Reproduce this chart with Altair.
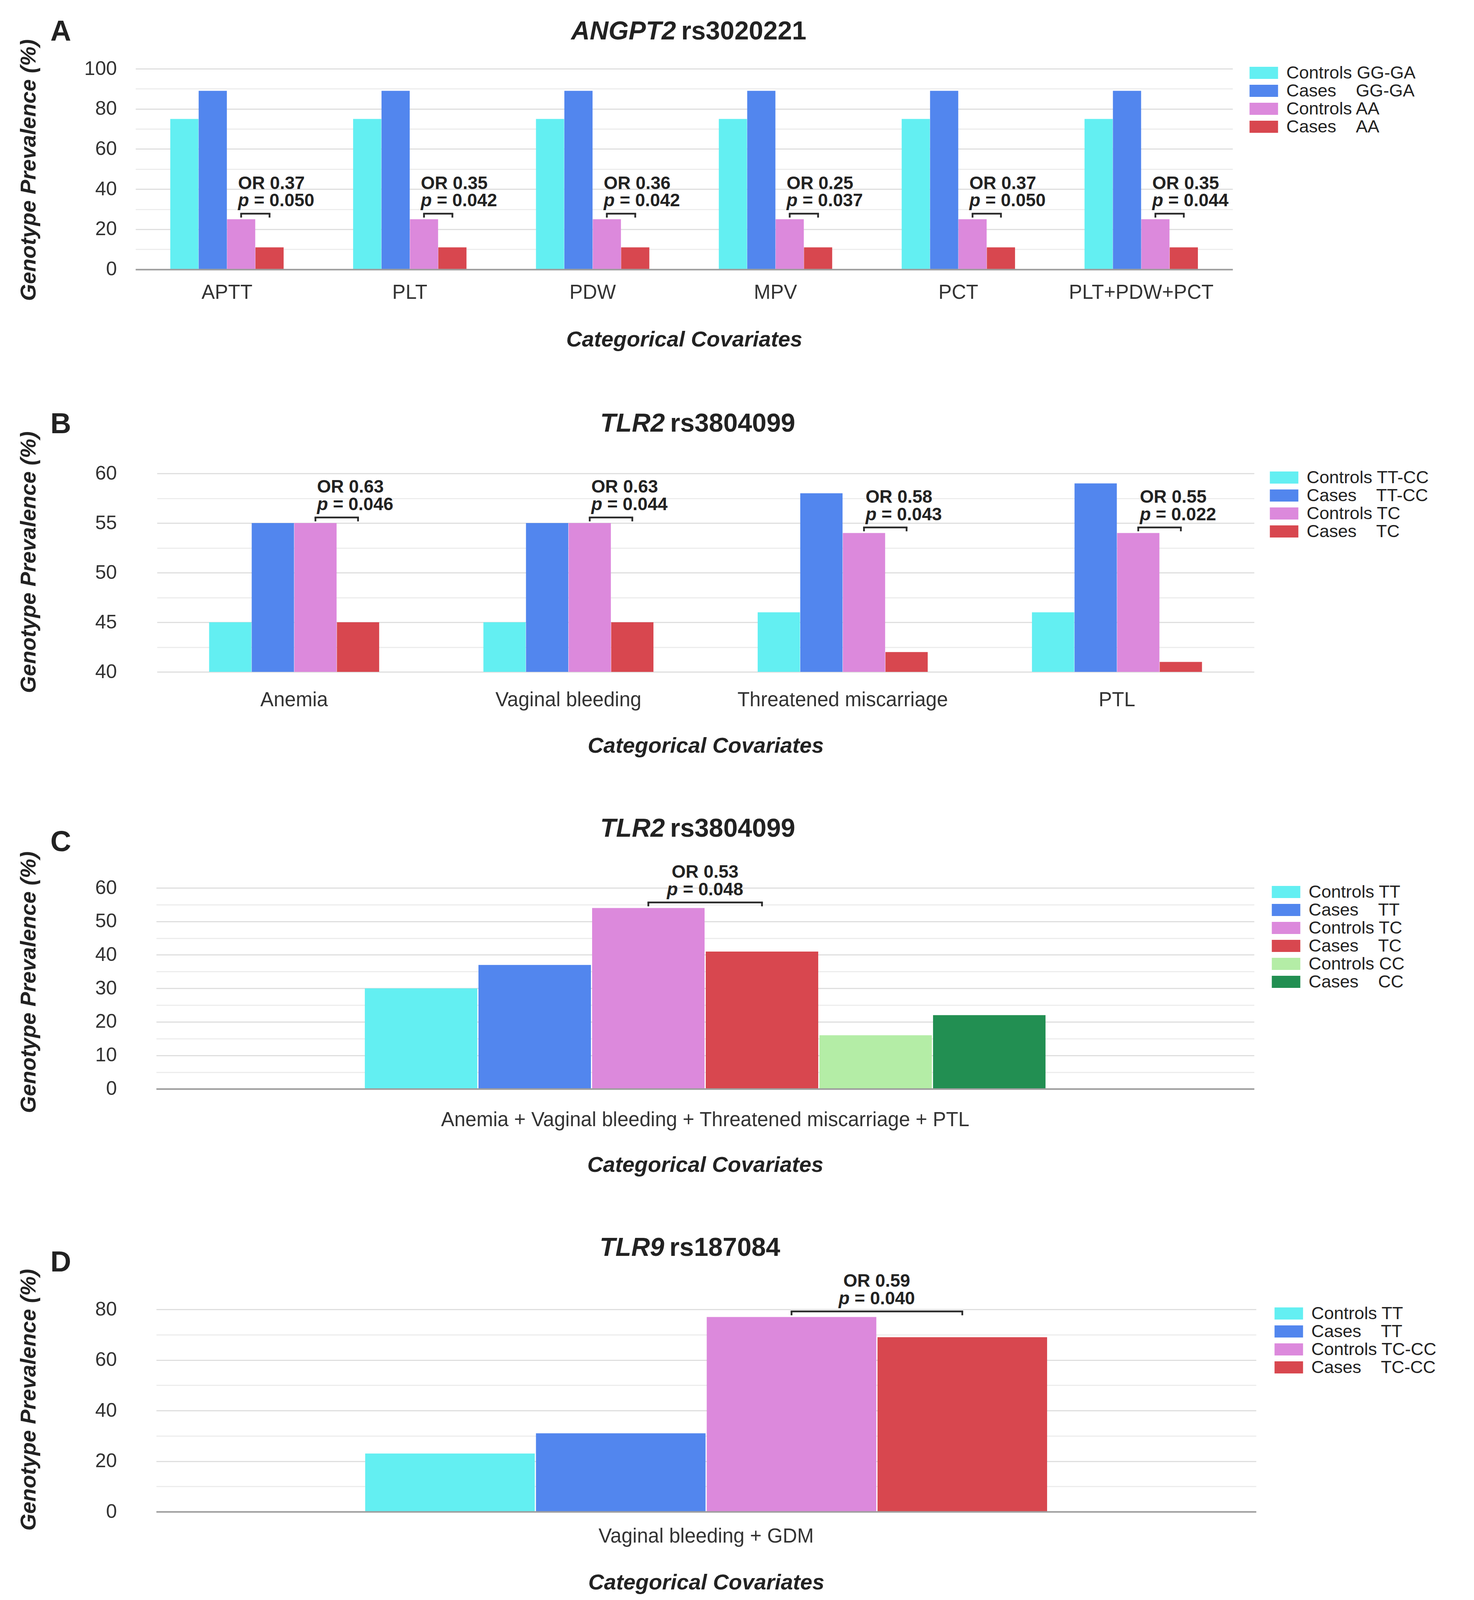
import altair as alt
import pandas as pd

# The photographed area is 3774 px wide and about 4096 px tall, so the reference's
# vertical layout (5741 px) is compressed by V; fonts are scaled moderately.
V = 0.7135

FONT = "Liberation Sans"
INK = "#222222"
TICK_INK = "#333333"
GAP = "\u00a0" * 4

CYAN, BLUE, PINK, RED = "#63eff2", "#5286ee", "#dc89dc", "#d8474f"
LGREEN, DGREEN = "#b4eda6", "#228f52"

# ---------------- Panel A ----------------
a_letter = "A"
a_gene = "ANGPT2"
a_snp = "rs3020221"
a_categories = ["APTT", "PLT", "PDW", "MPV", "PCT", "PLT+PDW+PCT"]
a_series = ["Controls GG-GA", "Cases" + GAP + "GG-GA", "Controls AA", "Cases" + GAP + "AA"]
a_colors = [CYAN, BLUE, PINK, RED]
a_controls_gg_ga = [75, 75, 75, 75, 75, 75]
a_cases_gg_ga = [89, 89, 89, 89, 89, 89]
a_controls_aa = [25, 25, 25, 25, 25, 25]
a_cases_aa = [11, 11, 11, 11, 11, 11]
a_or = ["0.37", "0.35", "0.36", "0.25", "0.37", "0.35"]
a_p = ["0.050", "0.042", "0.042", "0.037", "0.050", "0.044"]

# ---------------- Panel B ----------------
b_letter = "B"
b_gene = "TLR2"
b_snp = "rs3804099"
b_categories = ["Anemia", "Vaginal bleeding", "Threatened miscarriage", "PTL"]
b_series = ["Controls TT-CC", "Cases" + GAP + "TT-CC", "Controls TC", "Cases" + GAP + "TC"]
b_colors = [CYAN, BLUE, PINK, RED]
b_controls_tt_cc = [45, 45, 46, 46]
b_cases_tt_cc = [55, 55, 58, 59]
b_controls_tc = [55, 55, 54, 54]
b_cases_tc = [45, 45, 42, 41]
b_or = ["0.63", "0.63", "0.58", "0.55"]
b_p = ["0.046", "0.044", "0.043", "0.022"]

# ---------------- Panel C ----------------
c_letter = "C"
c_gene = "TLR2"
c_snp = "rs3804099"
c_categories = ["Anemia + Vaginal bleeding + Threatened miscarriage + PTL"]
c_series = ["Controls TT", "Cases" + GAP + "TT", "Controls TC", "Cases" + GAP + "TC",
            "Controls CC", "Cases" + GAP + "CC"]
c_colors = [CYAN, BLUE, PINK, RED, LGREEN, DGREEN]
c_controls_tt = [30]
c_cases_tt = [37]
c_controls_tc = [54]
c_cases_tc = [41]
c_controls_cc = [16]
c_cases_cc = [22]
c_or = ["0.53"]
c_p = ["0.048"]

# ---------------- Panel D ----------------
d_letter = "D"
d_gene = "TLR9"
d_snp = "rs187084"
d_categories = ["Vaginal bleeding + GDM"]
d_series = ["Controls TT", "Cases" + GAP + "TT", "Controls TC-CC", "Cases" + GAP + "TC-CC"]
d_colors = [CYAN, BLUE, PINK, RED]
d_controls_tt = [23]
d_cases_tt = [31]
d_controls_tc_cc = [77]
d_cases_tc_cc = [69]
d_or = ["0.59"]
d_p = ["0.040"]

X_TITLE = "Categorical Covariates"
Y_TITLE = "Genotype Prevalence (%)"

FS_TICK_X = 58 * 0.88
FS_TICK_Y = 57 * 0.88
FS_AXT = 62 * 0.90
FS_LEG = 55 * 0.82
FS_ANN = 56 * 0.82
FS_TITLE = 72 * 0.92
FS_LETTER = 80 * 0.92


def base(b_ref, fs_ref, fs_new):
    """Move a reference baseline offset into the compressed layout."""
    return (b_ref - 0.358 * fs_ref) * V + 0.358 * fs_new


def build_panel(letter, gene, snp, cats, series, colors, columns, or_labels, p_labels,
                ctrl_idx, case_idx, y_domain, grid_values, label_step, geo):
    rows = []
    for ci, c in enumerate(cats):
        for si, s in enumerate(series):
            rows.append({"cat": c, "series": s, "value": columns[si][ci]})
    df = pd.DataFrame(rows)

    ann = pd.DataFrame({
        "cat": cats,
        "series": [series[ctrl_idx]] * len(cats),
        "value": columns[ctrl_idx],
        "or": ["OR " + o for o in or_labels],
        "p": ["= " + p for p in p_labels],
    })
    br_rows = []
    for ci, c in enumerate(cats):
        for j in (ctrl_idx, case_idx):
            br_rows.append({"cat": c, "series": series[j], "value": columns[ctrl_idx][ci]})
    br = pd.DataFrame(br_rows)

    lead, pw, h = geo["lead"], geo["plot_w"], geo["height"] * V
    w = lead + pw
    band = pw * 0.62
    bar_w = band / len(series)
    x_scale = alt.Scale(domain=cats, paddingInner=0.38, paddingOuter=0.19, range=[lead, w])
    off_scale = alt.Scale(domain=series, paddingInner=3.0 / bar_w)
    y_scale = alt.Scale(domain=y_domain, nice=False, zero=False)

    grid_cond = {"condition": {"test": f"datum.value % {label_step} === 0", "value": "#dfdfdf"},
                 "value": "#ededed"}

    x_lp = geo["xl_c"] * V - 0.432 * FS_TICK_X
    x_tp = geo["xt_c"] * V - 0.432 * FS_AXT - x_lp - FS_TICK_X

    x_axis = alt.Axis(
        title=X_TITLE, labelAngle=0, ticks=False, tickSize=0,
        labelFont=FONT, labelFontSize=FS_TICK_X, labelColor=TICK_INK, labelPadding=x_lp,
        labelLimit=4000, labelOverlap=False,
        titleFont=FONT, titleFontSize=FS_AXT, titleFontWeight="bold", titleFontStyle="italic",
        titleColor=INK, titlePadding=x_tp,
        domain=geo["domain"], domainColor="#9e9e9e", domainWidth=4, grid=False, zindex=1,
    )
    y_axis = alt.Axis(
        title=Y_TITLE, values=grid_values,
        labelExpr=f"datum.value % {label_step} === 0 ? datum.label : ''",
        ticks=False, tickSize=0, domain=False,
        labelFont=FONT, labelFontSize=FS_TICK_Y, labelColor=TICK_INK, labelPadding=48,
        labelOverlap=False, labelLimit=1000,
        grid=True, gridColor=grid_cond, gridWidth=3,
        titleFont=FONT, titleFontSize=FS_AXT, titleFontWeight="bold", titleFontStyle="italic",
        titleColor=INK, titleX=-274, titleY=geo["yty"] * V, titleAngle=270,
        titleAlign="center", titleBaseline="middle",
    )

    xa = alt.X("cat:N", sort=cats, scale=x_scale, axis=x_axis)
    xo = alt.XOffset("series:N", sort=series, scale=off_scale)
    ya = alt.Y("value:Q", scale=y_scale, axis=y_axis)

    # legend swatch: drawn 73 px wide, nominal size kept below the label height
    sw = 36.5
    bars = alt.Chart(df).mark_bar(clip=True).encode(
        x=xa, xOffset=xo, y=ya,
        color=alt.Color("series:N", sort=series,
                        scale=alt.Scale(domain=series, range=colors),
                        legend=alt.Legend(
                            title=None, orient="none", legendX=geo["leg_x"] + sw / 2,
                            legendY=-12, padding=0,
                            symbolType="M-2,-0.85H2V0.85H-2Z", symbolSize=sw ** 2,
                            symbolStrokeWidth=0, symbolOpacity=1,
                            labelFont=FONT, labelFontSize=FS_LEG, labelColor=INK,
                            labelOffset=1.5 * sw + 17 - sw, labelLimit=2000, rowPadding=0)),
    )

    br_off = -20 * V
    line = alt.Chart(br).mark_line(yOffset=br_off, strokeWidth=4.5, color="#2b2b2b",
                                   strokeCap="square").encode(
        x=xa, xOffset=xo, y=ya, detail="cat:N")
    ticks = alt.Chart(br).mark_rule(yOffset=br_off, y2Offset=br_off + 10, strokeWidth=4.5,
                                    color="#2b2b2b").encode(
        x=xa, xOffset=xo, y=ya, y2=alt.Y2("value:Q"))

    fs = FS_ANN
    dy_or = base(-112, 56, fs)
    dy_p = base(-49, 56, fs)
    if geo["center"]:
        mid = bar_w / 2.0
        or_t = alt.Chart(ann).mark_text(align="center", baseline="alphabetic", dx=mid,
                                        dy=dy_or, font=FONT, fontSize=fs, fontWeight="bold",
                                        color=INK)
        left = mid - 4.253 * fs / 2.0
    else:
        left = geo["ann_dx"]
        or_t = alt.Chart(ann).mark_text(align="left", baseline="alphabetic", dx=left,
                                        dy=dy_or, font=FONT, fontSize=fs, fontWeight="bold",
                                        color=INK)
    or_t = or_t.encode(x=xa, xOffset=xo, y=ya, text="or:N")
    p_t = alt.Chart(ann).mark_text(align="left", baseline="alphabetic", dx=left, dy=dy_p,
                                   font=FONT, fontSize=fs, fontWeight="bold", fontStyle="italic",
                                   color=INK).encode(x=xa, xOffset=xo, y=ya, text=alt.value("p"))
    eq_t = alt.Chart(ann).mark_text(align="left", baseline="alphabetic", dx=left + 0.89 * fs,
                                    dy=dy_p, font=FONT, fontSize=fs, fontWeight="bold",
                                    color=INK).encode(x=xa, xOffset=xo, y=ya, text="p:N")

    # title "GENE rsNNN": gene part italic, centred on the reference title centre
    T = FS_TITLE
    total = (geo["gene_em"] + 0.278 + geo["snp_em"]) * T
    gene_r = geo["title_c"] - total / 2.0 + geo["gene_em"] * T
    ty = base(geo["title_b"], 72, T)
    one = pd.DataFrame({"k": [0]})
    gene_t = alt.Chart(one).mark_text(align="right", baseline="alphabetic", font=FONT,
                                      fontSize=T, fontWeight="bold", fontStyle="italic",
                                      color=INK).encode(
        x=alt.value(gene_r), y=alt.value(ty), text=alt.value(gene))
    snp_t = alt.Chart(one).mark_text(align="left", baseline="alphabetic", font=FONT,
                                     fontSize=T, fontWeight="bold", color=INK).encode(
        x=alt.value(gene_r + 0.2 * T), y=alt.value(ty), text=alt.value(snp))
    letter_t = alt.Chart(one).mark_text(align="left", baseline="alphabetic", font=FONT,
                                        fontSize=FS_LETTER, fontWeight="bold", color=INK).encode(
        x=alt.value(-218), y=alt.value(base(geo["let_b"], 80, FS_LETTER)),
        text=alt.value(letter))

    return alt.layer(bars, line, ticks, or_t, p_t, eq_t, gene_t, snp_t, letter_t).properties(
        width=w, height=h)


geo_a = dict(lead=0, plot_w=2809, height=720, xl_c=79, xt_c=249, yty=363, leg_x=2848,
             let_b=-109, title_b=-113, title_c=1419, gene_em=4.056, snp_em=4.837,
             domain=True, center=False, ann_dx=-8)
geo_b = dict(lead=55, plot_w=2809, height=712, xl_c=98, xt_c=263, yty=318, leg_x=2900,
             let_b=-153, title_b=-157, title_c=1442, gene_em=2.5, snp_em=4.837,
             domain=False, center=False, ann_dx=4)
geo_c = dict(lead=53, plot_w=2811, height=721, xl_c=108, xt_c=271, yty=338, leg_x=2905,
             let_b=-140, title_b=-191, title_c=1442, gene_em=2.5, snp_em=4.837,
             domain=True, center=True, ann_dx=0)
geo_d = dict(lead=53, plot_w=2816, height=726, xl_c=85, xt_c=252, yty=324, leg_x=2912,
             let_b=-144, title_b=-199, title_c=1422, gene_em=2.5, snp_em=4.281,
             domain=True, center=True, ann_dx=0)

panel_a = build_panel(a_letter, a_gene, a_snp, a_categories, a_series, a_colors,
                      [a_controls_gg_ga, a_cases_gg_ga, a_controls_aa, a_cases_aa],
                      a_or, a_p, 2, 3, [0, 100], [0, 10, 20, 30, 40, 50, 60, 70, 80, 90, 100],
                      20, geo_a)
panel_b = build_panel(b_letter, b_gene, b_snp, b_categories, b_series, b_colors,
                      [b_controls_tt_cc, b_cases_tt_cc, b_controls_tc, b_cases_tc],
                      b_or, b_p, 2, 3, [40, 60],
                      [40, 42.5, 45, 47.5, 50, 52.5, 55, 57.5, 60], 5, geo_b)
panel_c = build_panel(c_letter, c_gene, c_snp, c_categories, c_series, c_colors,
                      [c_controls_tt, c_cases_tt, c_controls_tc, c_cases_tc,
                       c_controls_cc, c_cases_cc],
                      c_or, c_p, 2, 3, [0, 60],
                      [0, 5, 10, 15, 20, 25, 30, 35, 40, 45, 50, 55, 60], 10, geo_c)
panel_d = build_panel(d_letter, d_gene, d_snp, d_categories, d_series, d_colors,
                      [d_controls_tt, d_cases_tt, d_controls_tc_cc, d_cases_tc_cc],
                      d_or, d_p, 2, 3, [0, 80], [0, 10, 20, 30, 40, 50, 60, 70, 80], 20, geo_d)

chart = alt.ConcatChart(
    concat=[panel_a, panel_b, panel_c, panel_d], columns=1, spacing=151, align="none",
).resolve_scale(
    color="independent", x="independent", y="independent", xOffset="independent"
).resolve_legend(color="independent").properties(
    padding={"top": 37, "left": 36, "right": 10, "bottom": 2}, background="white"
).configure_view(stroke=None)

chart.save("out.html", embed_options={"renderer": "svg", "actions": False})
